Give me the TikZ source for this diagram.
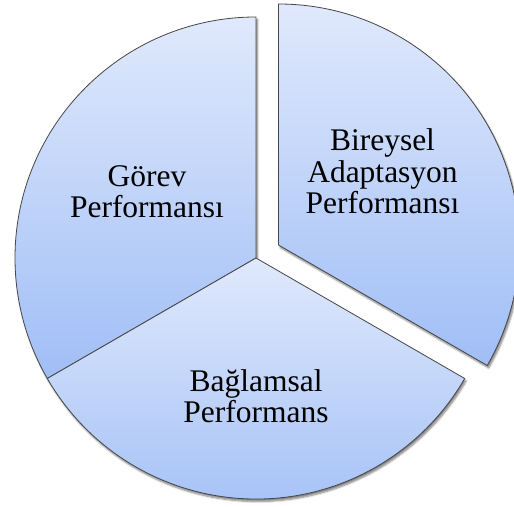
\documentclass[tikz,border=0pt]{standalone}
\usepackage{fontspec}
\setmainfont{Liberation Serif}
\usetikzlibrary{shadows.blur}
\definecolor{wedgetop}{RGB}{224,233,252}
\definecolor{wedgebot}{RGB}{160,190,246}
\definecolor{wedgeline}{RGB}{70,70,70}
\tikzset{
  wedge/.style={draw=wedgeline, line width=0.8pt, line join=miter,
    top color=wedgetop, bottom color=wedgebot,
    blur shadow={shadow xshift=1.5pt, shadow yshift=-2.5pt, shadow blur steps=6, shadow opacity=50}},
  label/.style={align=center, anchor=base, inner sep=0pt,
    font=\fontsize{31.5}{31.5}\selectfont}
}
\begin{document}
\begin{tikzpicture}[x=1pt,y=1pt]
  \useasboundingbox (0,0) rectangle (514,506);
  \def\R{241}
  \coordinate (c) at (256,248);
  \coordinate (cx) at (278.5,261);
  % left sector
  \path[wedge] (c) -- ++(90:\R) arc[start angle=90, end angle=210, radius=\R] -- cycle;
  % bottom sector
  \path[wedge] (c) -- ++(210:\R) arc[start angle=210, end angle=330, radius=\R] -- cycle;
  % pulled-out right sector
  \path[wedge] (cx) -- ++(-30:\R) arc[start angle=-30, end angle=90, radius=\R] -- cycle;
  % anchor=base sits on the last line's baseline
  \node[label] (gorev) at (147,288) {Görev\\Performansı};
  \node[label] (bireysel) at (382.5,292) {Bireysel\\Adaptasyon\\Performansı};
  \node[label] (baglamsal) at (256,83) {Bağlamsal\\Performans};
\end{tikzpicture}
\end{document}
